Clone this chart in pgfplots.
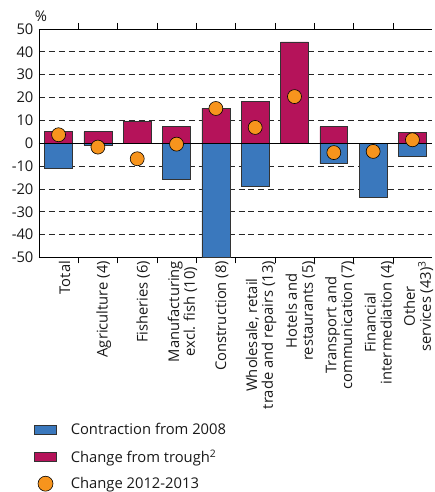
\documentclass[border=0pt]{standalone}
\usepackage{pgfplots}
\pgfplotsset{compat=1.18}
\usepackage{fontspec}
\setmainfont{Open Sans}
\definecolor{cblue}{HTML}{3A78BD}
\definecolor{cpink}{HTML}{B5135A}
\definecolor{corange}{HTML}{F7941D}
\begin{document}
\begin{tikzpicture}
\begin{axis}[
  scale only axis,
  width=394bp, height=229bp,
  xmin=-0.5, xmax=9.5, ymin=-50, ymax=50,
  /pgf/number format/assume math mode=true,
  axis x line=box, axis y line*=left,
  x axis line style={draw=black},
  y axis line style={draw=black},
  ytick={-50,-40,-30,-20,-10,0,10,20,30,40,50},
  yticklabels={-50,-40,-30,-20,-10,0,10,20,30,40,50},
  every tick label/.append style={font=\fontsize{14.8bp}{16bp}\selectfont, text=black!90},
  yticklabel style={xshift=-2bp},
  ymajorgrids,
  major grid style={black!85, dashed, dash pattern=on 6bp off 4bp, line width=0.6pt},
  major tick length=0pt,
  xtick={0,...,9},
  xticklabels={Total, Agriculture (4), Fisheries (6), Manufacturing\\excl. fish (10), Construction (8), {Wholesale, retail\\trade and repairs (13)}, Hotels and\\restaurants (5), Transport and\\communication (7), Financial\\intermediation (4), Other\\services (43)\textsuperscript{3}},
  xticklabel style={rotate=90, anchor=east, align=center, yshift=-6bp},
  extra x ticks={0.5,1.5,2.5,3.5,4.5,5.5,6.5,7.5,8.5},
  extra x tick labels={},
  extra x tick style={major tick length=6bp, tick align=outside, xmajorgrids=false, tick style={black, line width=0.6pt}},
  ybar, bar width=28bp,
  legend style={at={(axis description cs:-0.02,-0.708)}, anchor=north west, draw=none, fill=none, cells={anchor=west}, row sep=9.5bp, font=\fontsize{14.8bp}{16.5bp}\selectfont, text=black!90},
  clip=false,
]
\addplot[bar shift=0pt, fill=cblue, draw=black!80, line width=0.6pt,
  legend image code/.code={\draw[fill=cblue, draw=black!80, line width=0.6pt] (0bp,-4.5bp) rectangle (22bp,4.5bp); \path (34bp,0bp);}]
  coordinates {(0,-10.9) (1,-0.8) (3,-16) (4,-50) (5,-18.9) (7,-8.9) (8,-23.8) (9,-5.8)};
\addlegendentry{Contraction from 2008}
\addplot[bar shift=0pt, fill=cpink, draw=black!80, line width=0.6pt,
  legend image code/.code={\draw[fill=cpink, draw=black!80, line width=0.6pt] (0bp,-4.5bp) rectangle (22bp,4.5bp); \path (34bp,0bp);}]
  coordinates {(0,5.1) (1,5.0) (2,9.6) (3,7.2) (4,15.2) (5,18.4) (6,44.3) (7,7.3) (9,4.8)};
\addlegendentry{Change from trough\textsuperscript{2}}
\draw[black, line width=0.7pt] (axis cs:-0.5,0) -- (axis cs:9.5,0);
\addplot[only marks, mark=*, mark size=7bp, mark options={fill=corange, draw=black, line width=0.6pt},
  legend image code/.code={\draw[fill=corange, draw=black, line width=0.6pt] (11bp,0bp) circle (7.5bp); \path (34bp,0bp);}]
  coordinates {(0,3.7) (1,-1.7) (2,-6.8) (3,-0.4) (4,15.2) (5,6.9) (6,20.4) (7,-4.1) (8,-3.6) (9,1.5)};
\addlegendentry{Change 2012-2013}
\node[anchor=center, font=\fontsize{14.8bp}{16.5bp}\selectfont, text=black!90] at (rel axis cs:0.005,1.055) {\%};
\end{axis}
\pgfresetboundingbox
\path[use as bounding box] (-39bp,-235bp) rectangle (396bp,258bp);
\end{tikzpicture}
\end{document}
